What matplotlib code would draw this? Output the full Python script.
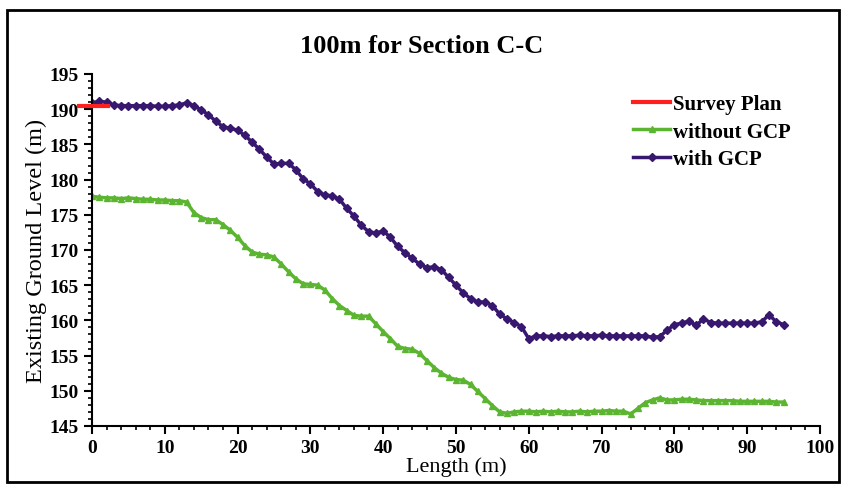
import matplotlib.pyplot as plt
from matplotlib.patches import Rectangle
from matplotlib.ticker import MultipleLocator

plt.rcParams["font.family"] = ["Liberation Serif", "DejaVu Serif"]

length = list(range(0, 96))

with_gcp = [
    190.9, 191.1, 191.0, 190.6, 190.5, 190.5, 190.5, 190.5, 190.5, 190.4,
    190.4, 190.5, 190.6, 190.9, 190.5, 189.9, 189.2, 188.3, 187.5, 187.3,
    187.0, 186.3, 185.3, 184.3, 183.2, 182.2, 182.3, 182.3, 181.4, 180.1,
    179.4, 178.3, 177.8, 177.7, 177.2, 175.9, 174.8, 173.5, 172.6, 172.4,
    172.7, 171.8, 170.5, 169.6, 168.8, 168.0, 167.5, 167.6, 167.2, 166.1,
    165.0, 163.9, 163.1, 162.6, 162.6, 162.1, 160.9, 160.2, 159.7, 159.1,
    157.4, 157.8, 157.8, 157.7, 157.8, 157.8, 157.8, 157.9, 157.8, 157.8,
    157.9, 157.8, 157.8, 157.8, 157.8, 157.8, 157.8, 157.6, 157.7, 158.6,
    159.4, 159.6, 159.9, 159.3, 160.2, 159.7, 159.6, 159.6, 159.6, 159.6,
    159.6, 159.6, 159.8, 160.8, 159.8, 159.4,
]

without_gcp = [
    177.6, 177.5, 177.4, 177.4, 177.3, 177.4, 177.3, 177.2, 177.2, 177.1,
    177.1, 177.0, 177.0, 176.8, 175.3, 174.6, 174.3, 174.3, 173.6, 172.8,
    171.8, 170.6, 169.7, 169.4, 169.3, 169.0, 168.0, 166.9, 165.9, 165.2,
    165.1, 165.0, 164.3, 163.1, 162.1, 161.4, 160.7, 160.6, 160.6, 159.5,
    158.4, 157.4, 156.3, 156.0, 155.9, 155.3, 154.3, 153.3, 152.5, 151.9,
    151.6, 151.5, 150.9, 149.9, 148.9, 147.9, 147.0, 146.8, 147.0, 147.1,
    147.1, 147.0, 147.1, 147.0, 147.1, 147.0, 147.0, 147.1, 147.0, 147.1,
    147.1, 147.2, 147.1, 147.1, 146.7, 147.5, 148.3, 148.7, 149.0, 148.7,
    148.7, 148.8, 148.8, 148.7, 148.6, 148.6, 148.6, 148.6, 148.6, 148.5,
    148.5, 148.5, 148.5, 148.5, 148.4, 148.4,
]

survey_x = [-1.8, 2.2]
survey_y = [190.5, 190.5]

purple = "#38186f"
green = "#5cb531"
red = "#ff1f1f"

fig = plt.figure(figsize=(8.44, 4.85), dpi=100)
ax = fig.add_axes([0.109, 0.1196, 0.8625, 0.7258])

ax.plot(survey_x, survey_y, color=red, lw=3, label="Survey Plan",
        clip_on=False, zorder=4)
ax.plot(length, without_gcp, color=green, lw=2.5, marker="^", ms=5,
        label="without GCP")
ax.plot(length, with_gcp, color=purple, lw=2.5, marker="D", ms=3.8,
        label="with GCP")

ax.set_xlim(0, 100)
ax.set_ylim(145, 195)
ax.xaxis.set_major_locator(MultipleLocator(10))
ax.xaxis.set_minor_locator(MultipleLocator(2))
ax.yaxis.set_major_locator(MultipleLocator(5))
ax.yaxis.set_minor_locator(MultipleLocator(1))
ax.tick_params(which="major", length=6, width=1.5, labelsize=14)
ax.tick_params(which="minor", length=3, width=1.2)
for lab in ax.get_xticklabels() + ax.get_yticklabels():
    lab.set_fontweight("bold")

ax.spines["top"].set_visible(False)
ax.spines["right"].set_visible(False)
ax.spines["left"].set_linewidth(1.5)
ax.spines["bottom"].set_linewidth(1.5)

ax.set_xlabel("Length (m)", fontsize=16, labelpad=0)
ax.set_ylabel("Existing Ground Level (m)", fontsize=17.5, labelpad=2)
fig.text(0.5, 0.905, "100m for Section C-C", fontsize=19, fontweight="bold",
         ha="center", va="center")

leg = ax.legend(loc="upper right", bbox_to_anchor=(0.985, 0.995), frameon=False,
                prop={"weight": "bold", "size": 15}, handlelength=1.8,
                handletextpad=0.1, labelspacing=0.35)

fig.add_artist(Rectangle((7 / 844, 2 / 485), 832 / 844, 472 / 485,
                         transform=fig.transFigure, fill=False,
                         edgecolor="black", lw=2))

fig.savefig("out.png", dpi=100)
